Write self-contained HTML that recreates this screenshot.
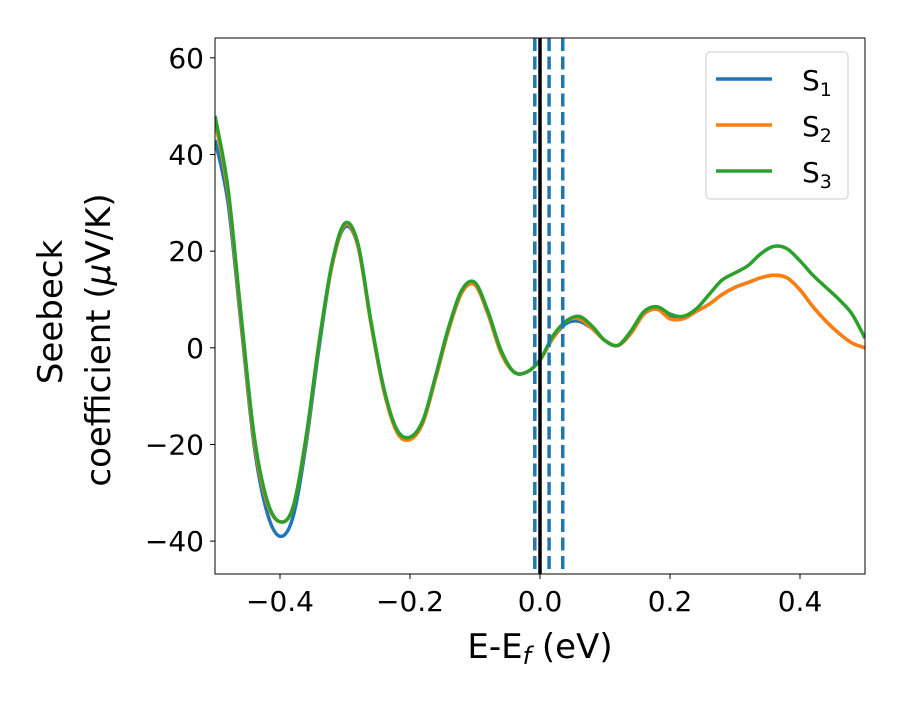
<!DOCTYPE html>
<html><head><meta charset="utf-8">
<style>body{margin:0;background:#fff}svg{font-family:"DejaVu Sans","Liberation Sans",sans-serif}</style>
</head><body>
<svg id="chart" width="900" height="700">
</svg>
<script>
const xs=[-0.5,-0.48,-0.46,-0.44,-0.42,-0.40,-0.38,-0.36,-0.34,-0.32,-0.30,-0.28,-0.26,-0.24,-0.22,-0.20,-0.18,-0.16,-0.14,-0.12,-0.10,-0.08,-0.06,-0.04,-0.02,0.00,0.02,0.04,0.06,0.08,0.10,0.12,0.14,0.16,0.18,0.20,0.22,0.24,0.26,0.28,0.30,0.32,0.34,0.36,0.38,0.40,0.42,0.44,0.46,0.48,0.50];
const s1=[43,30,5,-20,-34,-39,-35,-20,0,17,25,21,5,-9,-17,-18.5,-15,-6,4,11.5,13,7,-1,-5,-5,-2.5,2,5,5.5,4,1.5,0.5,3,7,8,6.5,6,7.5,9,11,12.5,13.5,14.5,15,14.5,12,8.5,5.5,3,1,0];
const s2=[47,32,6,-19,-32,-36,-33,-19,1,17,25.5,21,5,-9,-17.5,-19,-15.5,-6,4,11.5,13,7,-1,-5,-5,-2.5,2,5.5,6,4,1.5,0.5,3,7,8,6,6,7.5,9,11,12.5,13.5,14.5,15,14.5,12,8.5,5.5,3,1,0];
const s3=[48,33,7,-18,-31.5,-36,-33,-18.5,1,17.5,25.8,21.5,5.5,-8.5,-17,-18.5,-15,-5.5,4.5,12,13.5,7.5,-0.5,-5,-5,-2.5,2.5,5.5,6.5,4.5,1.5,0.5,3.5,7.5,8.5,7,6.5,8,11,14,15.5,17,19.5,21,20.5,18,15,12.5,10,7,2];
const vlines=[-0.008,0.014,0.035];
const xticks=[-0.4,-0.2,0.0,0.2,0.4];
const yticks=[-40,-20,0,20,40,60];
const L=215,R=865,T=38,B=574,xmin=-0.5,xmax=0.5,ymin=-46.8,ymax=64.1;
const X=v=>L+(v-xmin)/(xmax-xmin)*(R-L);
const Y=v=>B-(v-ymin)/(ymax-ymin)*(B-T);
const svg=document.getElementById('chart');const NS='http://www.w3.org/2000/svg';
function mk(t,a,p){const e=document.createElementNS(NS,t);for(const k in a)e.setAttribute(k,a[k]);(p||svg).appendChild(e);return e;}
const clip=mk('clipPath',{id:'cp'});mk('rect',{x:L,y:T,width:R-L,height:B-T},clip);
function pathD(ys){const p=xs.map((x,i)=>[X(x),Y(ys[i])]);let d='M'+p[0][0]+','+p[0][1];
for(let i=0;i<p.length-1;i++){const p0=p[Math.max(0,i-1)],p1=p[i],p2=p[i+1],p3=p[Math.min(p.length-1,i+2)];
d+=' C'+(p1[0]+(p2[0]-p0[0])/6)+','+(p1[1]+(p2[1]-p0[1])/6)+' '+(p2[0]-(p3[0]-p1[0])/6)+','+(p2[1]-(p3[1]-p1[1])/6)+' '+p2[0]+','+p2[1];}return d;}
const g=mk('g',{'clip-path':'url(#cp)'});
[[s1,'#1f77b4','series-s1'],[s2,'#ff7f0e','series-s2'],[s3,'#2ca02c','series-s3']].forEach(([s,c,n])=>{
const e=mk('path',{d:pathD(s),fill:'none',stroke:c,'stroke-width':3.5},g);

});
const bl=mk('line',{x1:X(0),x2:X(0),y1:T,y2:B,stroke:'#000','stroke-width':3.5});


vlines.forEach(v=>{const e=mk('line',{x1:X(v),x2:X(v),y1:T,y2:B,stroke:'#1f77b4','stroke-width':3.5,'stroke-dasharray':'13,5.5'});

});
const fr=mk('rect',{x:L,y:T,width:R-L,height:B-T,fill:'none',stroke:'#000','stroke-width':1});


xticks.forEach(v=>{mk('line',{x1:X(v),x2:X(v),y1:B,y2:B+5,stroke:'#000'});
const t=mk('text',{x:X(v),y:B+37,'font-size':28,'text-anchor':'middle'});t.textContent=(v<0?'\u2212':'')+Math.abs(v).toFixed(1);

});
yticks.forEach(v=>{mk('line',{x1:L-5,x2:L,y1:Y(v),y2:Y(v),stroke:'#000'});
const t=mk('text',{x:L-11,y:Y(v)+10,'font-size':28,'text-anchor':'end'});t.textContent=(v<0?'\u2212':'')+Math.abs(v);

});
</script>
<svg width="900" height="700" style="position:absolute;left:0;top:0;font-family:'DejaVu Sans','Liberation Sans',sans-serif">
<text x="540" y="658" font-size="34" text-anchor="middle">E-E<tspan font-size="24" dy="6" font-style="italic">f</tspan><tspan dy="-6"> (eV)</tspan></text>
<g transform="translate(0,0)">
<text x="62" y="312" font-size="34" text-anchor="middle" transform="rotate(-90 62 312)">Seebeck</text>
<text x="110" y="340" font-size="34" text-anchor="middle" transform="rotate(-90 110 340)">coefficient  (<tspan font-style="italic">μ</tspan>V/K)</text>
</g>
<g>
<rect x="706" y="52" width="142" height="147" rx="4" fill="#fff" fill-opacity="0.8" stroke="#ccc"/>
<line x1="716" x2="772" y1="79" y2="79" stroke="#1f77b4" stroke-width="3.5"/>
<text x="802" y="90" font-size="28">S<tspan font-size="19" dy="6">1</tspan></text>
<line x1="716" x2="772" y1="125" y2="125" stroke="#ff7f0e" stroke-width="3.5"/>
<text x="802" y="136" font-size="28">S<tspan font-size="19" dy="6">2</tspan></text>
<line x1="716" x2="772" y1="171" y2="171" stroke="#2ca02c" stroke-width="3.5"/>
<text x="802" y="182" font-size="28">S<tspan font-size="19" dy="6">3</tspan></text>
</g>
</svg>
</body></html>
